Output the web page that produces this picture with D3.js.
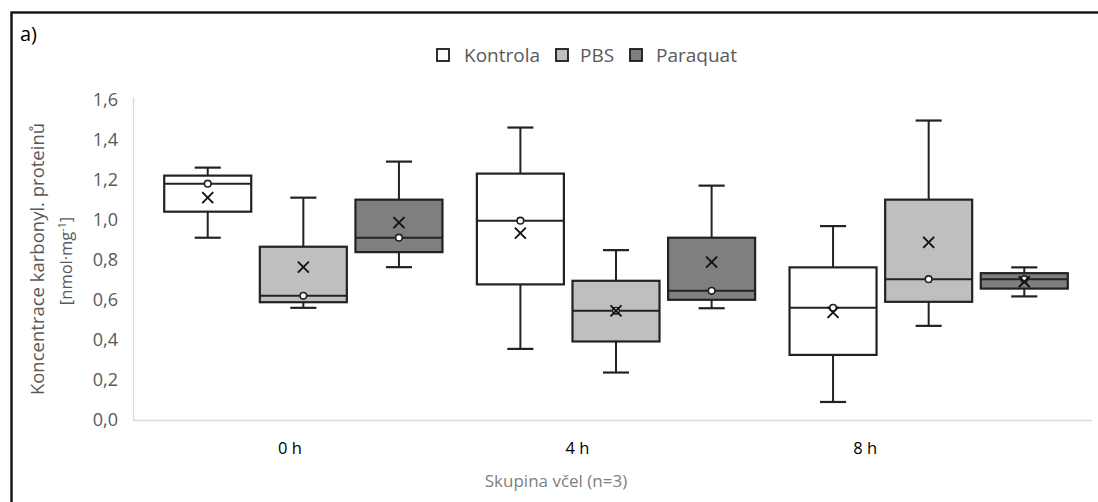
<!DOCTYPE html>
<html>
<head>
<meta charset="utf-8">
<script src="https://cdn.jsdelivr.net/npm/d3@7"></script>
<style>
  html, body { margin: 0; padding: 0; background: #fff; }
  svg { display: block; }
  text { font-family: "Open Sans", "Noto Sans", sans-serif; }
</style>
</head>
<body>
<svg id="chart" width="1098" height="502"></svg>
<script>
// ---- Data ----
const categories = ["0 h", "4 h", "8 h"];
const series = ["Kontrola", "PBS", "Paraquat"];
const yTickValues = [0, 0.2, 0.4, 0.6, 0.8, 1.0, 1.2, 1.4, 1.6];
const yTickLabels = ["0,0", "0,2", "0,4", "0,6", "0,8", "1,0", "1,2", "1,4", "1,6"];
// each entry: [min, q1, median, q3, max, mean] for 0 h, 4 h, 8 h
const kontrolaStats = [
  [0.91, 1.04, 1.18, 1.22, 1.26, 1.11],
  [0.355, 0.677, 0.995, 1.23, 1.46, 0.933],
  [0.09, 0.325, 0.56, 0.762, 0.968, 0.537]
];
const pbsStats = [
  [0.56, 0.588, 0.62, 0.865, 1.11, 0.763],
  [0.237, 0.392, 0.545, 0.695, 0.848, 0.545],
  [0.47, 0.59, 0.703, 1.10, 1.495, 0.887]
];
const paraquatStats = [
  [0.763, 0.838, 0.91, 1.10, 1.29, 0.985],
  [0.558, 0.60, 0.645, 0.91, 1.17, 0.788],
  [0.617, 0.656, 0.703, 0.733, 0.762, 0.69]
];
const seriesColors = ["#ffffff", "#bfbfbf", "#7f7f7f"];
const yTitle = "Koncentrace karbonyl. proteinů";
const xTitle = "Skupina včel (n=3)";
const panelLabel = "a)";

// ---- Setup ----
const svg = d3.select("#chart");
const statsBySeries = [kontrolaStats, pbsStats, paraquatStats];

// frame
svg.append("rect")
  .attr("x", 11.5).attr("y", 12.5)
  .attr("width", 1200).attr("height", 600)
  .attr("fill", "none").attr("stroke", "#111").attr("stroke-width", 2.4);

svg.append("text").attr("x", 20).attr("y", 41)
  .attr("font-size", 20).attr("fill", "#000").text(panelLabel);

const y = d3.scaleLinear().domain([0, 1.6]).range([420, 99.5]);
const x = d3.scaleBand().domain(categories).range([147, 1085]);
const xInner = d3.scaleBand().domain(series).range([0, x.bandwidth()])
  .paddingInner(0.09).paddingOuter(0.18);
const xLabel = d3.scaleBand().domain(categories).range([146, 1009]);

// axis lines
svg.append("line").attr("x1", 133.5).attr("x2", 133.5)
  .attr("y1", y(1.6) - 2).attr("y2", y(0))
  .attr("stroke", "#d9d9d9").attr("stroke-width", 1.3);
svg.append("line").attr("x1", 133).attr("x2", 1092)
  .attr("y1", y(0) + 0.5).attr("y2", y(0) + 0.5)
  .attr("stroke", "#d9d9d9").attr("stroke-width", 1.3);

// y axis labels
const yAxis = d3.axisLeft(y).tickValues(yTickValues)
  .tickFormat((d, i) => yTickLabels[i]).tickSize(0).tickPadding(0);
const gy = svg.append("g").attr("transform", "translate(118,0)").call(yAxis);
gy.select(".domain").remove();
gy.selectAll("text").attr("font-size", 18).attr("fill", "#595959")
  .style("font-family", "'Open Sans', sans-serif");

// x axis labels
const xAxis = d3.axisBottom(xLabel).tickSize(0).tickPadding(0);
const gx = svg.append("g").attr("transform", "translate(0,442)").call(xAxis);
gx.select(".domain").remove();
gx.selectAll("text").attr("font-size", 16.5).attr("fill", "#000")
  .style("font-family", "'Open Sans', sans-serif");

// titles
svg.append("text").attr("x", 556).attr("y", 487)
  .attr("text-anchor", "middle").attr("font-size", 17).attr("fill", "#7f7f7f")
  .text(xTitle);
svg.append("text")
  .attr("transform", "translate(44,259) rotate(-90)")
  .attr("text-anchor", "middle").attr("font-size", 18.5).attr("fill", "#595959")
  .text(yTitle);
const unit = svg.append("text")
  .attr("transform", "translate(72,261) rotate(-90)")
  .attr("text-anchor", "middle").attr("font-size", 16.5).attr("fill", "#595959");
unit.append("tspan").text("[nmol·mg");
unit.append("tspan").attr("dy", -6).attr("font-size", 10.5).text("-1");
unit.append("tspan").attr("dy", 6).text("]");

// legend
const legendItems = [
  { name: series[0], x: 437, tx: 464 },
  { name: series[1], x: 556, tx: 580 },
  { name: series[2], x: 630, tx: 656 }
];
const lg = svg.append("g");
legendItems.forEach((d, i) => {
  lg.append("rect").attr("x", d.x).attr("y", 49).attr("width", 12).attr("height", 12)
    .attr("fill", seriesColors[i]).attr("stroke", "#1a1a1a").attr("stroke-width", 1.8);
  lg.append("text").attr("x", d.tx).attr("y", 62).attr("font-size", 19)
    .attr("fill", "#595959").text(d.name);
});

// boxes
const bw = xInner.bandwidth();
const capW = bw * 0.3;
const stroke = "#222";
categories.forEach((cat, ci) => {
  series.forEach((s, si) => {
    const [mn, q1, md, q3, mx, mean] = statsBySeries[si][ci];
    const x0 = x(cat) + xInner(s);
    const cx = x0 + bw / 2;
    const g = svg.append("g");
    // whiskers
    g.append("line").attr("x1", cx).attr("x2", cx).attr("y1", y(mx)).attr("y2", y(q3))
      .attr("stroke", stroke).attr("stroke-width", 2);
    g.append("line").attr("x1", cx).attr("x2", cx).attr("y1", y(q1)).attr("y2", y(mn))
      .attr("stroke", stroke).attr("stroke-width", 2);
    g.append("line").attr("x1", cx - capW / 2).attr("x2", cx + capW / 2).attr("y1", y(mx)).attr("y2", y(mx))
      .attr("stroke", stroke).attr("stroke-width", 2.2);
    g.append("line").attr("x1", cx - capW / 2).attr("x2", cx + capW / 2).attr("y1", y(mn)).attr("y2", y(mn))
      .attr("stroke", stroke).attr("stroke-width", 2.2);
    // box
    g.append("rect").attr("x", x0).attr("y", y(q3)).attr("width", bw).attr("height", y(q1) - y(q3))
      .attr("fill", seriesColors[si]).attr("stroke", stroke).attr("stroke-width", 2.2);
    // median
    g.append("line").attr("x1", x0).attr("x2", x0 + bw).attr("y1", y(md)).attr("y2", y(md))
      .attr("stroke", stroke).attr("stroke-width", 2);
    // median point
    g.append("circle").attr("cx", cx).attr("cy", y(md)).attr("r", 3.3)
      .attr("fill", "#fff").attr("stroke", stroke).attr("stroke-width", 1.6);
    // mean marker X
    const m = 5.5;
    const my = y(mean);
    g.append("path")
      .attr("d", `M${cx - m},${my - m}L${cx + m},${my + m}M${cx - m},${my + m}L${cx + m},${my - m}`)
      .attr("stroke", "#111").attr("stroke-width", 1.9).attr("fill", "none");
  });
});
</script>
</body>
</html>
